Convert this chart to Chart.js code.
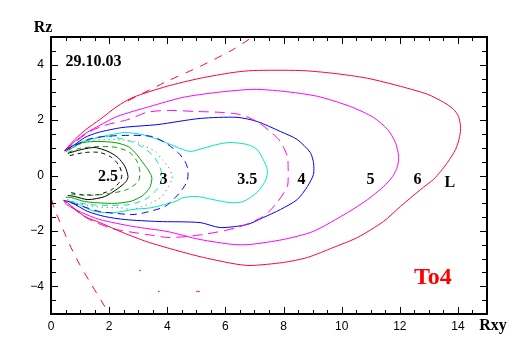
<!DOCTYPE html>
<html><head><meta charset="utf-8">
<script src="https://cdn.jsdelivr.net/npm/chart.js@4"></script>
<style>html,body{margin:0;padding:0;background:#fff}</style>
</head><body>
<canvas id="c" width="512" height="357"></canvas>
<script>
// ---- data (x = Rxy, y = Rz) ----
const xTickValues = [0, 2, 4, 6, 8, 10, 12, 14];
const yTickValues = [-4, -2, 0, 2, 4];

const L6_solid = [[0.47,0.90],[0.82,1.30],[1.20,1.66],[1.68,2.02],[2.27,2.49],[2.82,2.82],[3.99,3.22],[5.13,3.51],[6.27,3.72],[6.96,3.79],[8.58,3.79],[9.71,3.69],[10.89,3.51],[12.02,3.22],[12.96,2.93],[13.51,2.64],[13.85,2.39],[14.02,2.13],[14.09,1.77],[14.06,1.41],[13.92,0.94],[13.64,0.47],[13.40,0.14],[13.16,-0.14],[12.71,-0.51],[12.02,-1.12],[11.44,-1.66],[10.54,-2.24],[9.71,-2.60],[8.82,-2.96],[7.99,-3.14],[6.85,-3.25],[6.26,-3.18],[5.13,-2.93],[4.20,-2.67],[3.30,-2.39],[2.47,-2.06],[1.68,-1.70],[1.16,-1.48],[0.58,-1.00],[0.44,-0.90]];
const L6_dash_upper = [[2.65,2.70],[3.99,3.40],[5.13,3.94],[6.27,4.55],[6.96,5.02]];
const L6_dash_lower = [[0.02,-0.87],[0.13,-1.23],[0.64,-2.49],[0.99,-3.22],[1.33,-3.83],[2.02,-5.02]];
const L6_dots = [[3.06,-3.43],[3.71,-4.19],[5.02,-4.19],[5.09,-4.19]];

const L5_solid = [[0.47,0.90],[0.82,1.23],[1.23,1.55],[1.68,1.81],[2.27,2.13],[3.40,2.49],[4.54,2.82],[5.71,3.00],[6.96,3.11],[7.99,3.04],[9.16,2.86],[10.30,2.49],[11.09,2.10],[11.58,1.66],[11.85,1.19],[11.96,0.69],[11.92,0.33],[11.75,-0.04],[11.44,-0.40],[10.89,-0.87],[10.20,-1.34],[9.02,-2.02],[7.99,-2.31],[6.85,-2.49],[6.27,-2.49],[5.13,-2.31],[3.99,-2.02],[2.82,-1.84],[1.68,-1.59],[1.06,-1.34],[0.54,-1.05],[0.44,-0.90]];
const L5_dash = [[0.47,0.90],[1.27,1.55],[1.85,1.81],[2.65,2.02],[3.30,2.28],[3.99,2.35],[5.02,2.31],[5.82,2.28],[6.51,2.20],[7.09,1.95],[7.54,1.59],[7.89,1.23],[8.13,0.69],[8.16,0.22],[8.16,-0.14],[8.13,-0.40],[7.78,-0.98],[7.30,-1.48],[6.40,-1.88],[5.23,-2.13],[4.09,-2.24],[3.30,-2.13],[2.13,-1.92],[1.33,-1.59],[0.82,-1.23],[0.44,-0.90]];

const L4_solid = [[0.47,0.90],[0.82,1.12],[1.16,1.37],[1.61,1.55],[2.44,1.73],[3.68,1.84],[5.13,2.06],[6.40,2.10],[7.09,1.95],[7.89,1.59],[8.47,1.30],[8.92,0.83],[9.03,0.47],[9.03,0.04],[8.82,-0.40],[8.47,-0.87],[7.89,-1.23],[7.30,-1.52],[6.75,-1.77],[5.82,-1.88],[5.13,-1.70],[3.68,-1.66],[2.54,-1.59],[1.85,-1.48],[1.27,-1.30],[0.71,-0.98],[0.44,-0.90]];
const L4_dash = [[0.47,0.90],[1.27,1.30],[1.85,1.41],[2.71,1.45],[3.47,1.41],[3.92,1.19],[4.37,0.83],[4.61,0.51],[4.71,0.22],[4.71,-0.04],[4.68,-0.22],[4.51,-0.51],[4.27,-0.80],[3.92,-1.12],[3.23,-1.34],[2.78,-1.41],[1.68,-1.30],[1.10,-1.12],[0.54,-0.94]];

const L35_solid = [[0.47,0.90],[0.99,1.19],[1.61,1.37],[2.10,1.48],[2.54,1.55],[3.13,1.48],[3.68,1.30],[4.27,1.05],[4.78,0.87],[5.23,0.98],[5.71,1.12],[6.16,1.19],[6.75,1.12],[7.09,0.94],[7.30,0.58],[7.44,0.22],[7.40,-0.14],[7.09,-0.61],[6.61,-0.94],[6.16,-0.98],[5.58,-0.87],[5.02,-0.76],[4.54,-0.80],[4.27,-0.94],[3.47,-1.16],[2.78,-1.23],[2.20,-1.34],[1.51,-1.30],[0.82,-0.98],[0.44,-0.90]];
const L35_dash = [[0.47,0.90],[1.16,1.23],[1.85,1.41],[2.54,1.30],[3.06,1.08],[3.47,0.76],[3.71,0.40],[3.82,0.00],[3.75,-0.33],[3.58,-0.58],[3.23,-0.87],[2.71,-1.05],[2.02,-1.08],[1.33,-1.05],[0.71,-0.94],[0.44,-0.90]];

const L3_solid = [[0.51,0.87],[0.82,1.05],[1.10,1.19],[1.61,1.23],[2.20,1.19],[2.65,1.05],[2.89,0.83],[3.13,0.51],[3.33,0.22],[3.47,-0.07],[3.40,-0.43],[3.16,-0.72],[2.78,-0.92],[2.30,-1.00],[1.85,-1.00],[1.16,-0.94],[0.71,-0.80],[0.51,-0.78]];
const L3_dash = [[0.58,0.83],[0.99,0.98],[1.68,1.05],[2.27,1.01],[2.71,0.83],[2.96,0.51],[3.06,0.11],[3.00,-0.22],[2.61,-0.51],[2.02,-0.65],[1.33,-0.72],[0.75,-0.69],[0.58,-0.76]];
const L3_dot = [[0.51,0.87],[1.27,1.23],[2.02,1.30],[2.89,1.23],[3.23,1.05],[3.58,0.87],[3.82,0.58],[4.02,0.33],[4.16,0.04],[4.16,-0.14],[4.02,-0.43],[3.82,-0.76],[3.47,-0.98],[3.13,-1.12],[2.78,-1.23],[2.37,-1.16],[1.96,-1.16],[1.51,-1.12],[0.82,-0.98],[0.51,-0.83]];

const L25_solid = [[0.58,0.80],[1.06,0.94],[1.51,1.01],[1.96,0.87],[2.30,0.65],[2.54,0.33],[2.65,-0.04],[2.58,-0.22],[2.30,-0.47],[1.85,-0.76],[1.27,-0.87],[0.82,-0.76],[0.58,-0.72]];
const L25_dash = [[0.65,0.72],[1.16,0.83],[1.68,0.83],[2.09,0.65],[2.34,0.36],[2.44,0.04],[2.37,-0.22],[2.09,-0.51],[1.61,-0.69],[1.06,-0.69],[0.65,-0.61]];

const curveLabels = ['2.5', '3', '3.5', '4', '5', '6', 'L'];
const curveLabelX = [1.96, 3.87, 6.75, 8.62, 10.99, 12.61, 13.72];
const curveLabelY = [-0.05, -0.14, -0.14, -0.14, -0.16, -0.14, -0.27];
const dateText = '29.10.03';
const modelText = 'To4';

// ---- chart ----
const pts = a => a.map(([x, y]) => ({x, y}));
function line(d, color, dash, tension) {
  return {data: pts(d), showLine: true, borderColor: color, borderWidth: 1,
    borderDash: dash || [], pointRadius: 0, fill: false, tension: tension === undefined ? 0.25 : tension};
}
const RED = '#ff0040', MAG = '#ff00ff', BLUE = '#0000ff', CYAN = '#00e8b8', GREEN = '#00a000', BLACK = '#000000';

const decor = {
  id: 'decor',
  afterDraw(chart) {
    const ctx = chart.ctx, a = chart.chartArea;
    const xs = chart.scales.x, ys = chart.scales.y;
    ctx.save();
    ctx.strokeStyle = '#000';
    ctx.lineWidth = 2;
    ctx.strokeRect(a.left, a.top, a.right - a.left, a.bottom - a.top);
    ctx.lineWidth = 1;
    ctx.beginPath();
    for (let v = 0; v <= 15.001; v += 0.5) {
      const px = Math.round(xs.getPixelForValue(v)) + 0.5;
      const len = xTickValues.includes(v) ? 7 : 4;
      ctx.moveTo(px, a.bottom); ctx.lineTo(px, a.bottom - len);
      ctx.moveTo(px, a.top); ctx.lineTo(px, a.top + len);
    }
    for (let v = -5; v <= 5.001; v += 0.5) {
      const py = Math.round(ys.getPixelForValue(v)) + 0.5;
      const len = yTickValues.includes(v) ? 7 : 5;
      ctx.moveTo(a.left, py); ctx.lineTo(a.left + len, py);
      ctx.moveTo(a.right, py); ctx.lineTo(a.right - len, py);
    }
    ctx.stroke();

    ctx.fillStyle = '#000';
    ctx.textAlign = 'center';
    ctx.textBaseline = 'middle';
    ctx.font = 'bold 16px "Liberation Serif"';
    curveLabels.forEach((t, i) => {
      ctx.fillText(t, xs.getPixelForValue(curveLabelX[i]), ys.getPixelForValue(curveLabelY[i]));
    });
    ctx.fillText(dateText, xs.getPixelForValue(1.46), ys.getPixelForValue(4.10));
    ctx.fillText('Rz', a.left - 8, a.top - 9);
    ctx.fillText('Rxy', a.right + 6, a.bottom + 12);
    ctx.fillStyle = '#ff0000';
    ctx.font = 'bold 24px "Liberation Serif"';
    ctx.fillText(modelText, xs.getPixelForValue(13.14), ys.getPixelForValue(-3.69));
    ctx.restore();
  }
};

new Chart(document.getElementById('c'), {
  type: 'scatter',
  data: {datasets: [
    line(L6_solid, RED), line(L6_dash_upper, RED, [8, 8]), line(L6_dash_lower, RED, [8, 8]),
    {data: pts(L6_dots), showLine: false, pointRadius: 0.8, pointBorderWidth: 0, pointBackgroundColor: RED},
    line(L5_solid, MAG), line(L5_dash, MAG, [10, 6]),
    line(L4_solid, BLUE), line(L4_dash, BLUE, [7, 5]),
    line(L35_solid, CYAN), line(L35_dash, CYAN, [6, 5]),
    line(L3_solid, GREEN), line(L3_dash, GREEN, [5, 4]), line(L3_dot, GREEN, [1, 4]),
    line(L25_solid, BLACK), line(L25_dash, BLACK, [4, 4])
  ]},
  options: {
    responsive: false, animation: false, devicePixelRatio: 1,
    layout: {padding: {top: 37, right: 25, bottom: 0, left: 0}},
    plugins: {legend: {display: false}, tooltip: {enabled: false}},
    scales: {
      x: {type: 'linear', min: 0, max: 15,
        afterBuildTicks: s => { s.ticks = xTickValues.map(v => ({value: v})); },
        afterFit: s => { s.height = 43; },
        ticks: {color: '#000', font: {family: 'Liberation Sans', size: 12}, padding: 5, maxRotation: 0, autoSkip: false},
        grid: {display: false, drawTicks: false}, border: {display: false}},
      y: {type: 'linear', min: -5, max: 5,
        afterBuildTicks: s => { s.ticks = yTickValues.map(v => ({value: v})); },
        afterFit: s => { s.width = 51; },
        ticks: {color: '#000', font: {family: 'Liberation Sans', size: 12}, padding: 7, autoSkip: false,
          callback: v => (v < 0 ? '\u2212' + Math.abs(v) : String(v))},
        grid: {display: false, drawTicks: false}, border: {display: false}}
    }
  },
  plugins: [decor]
});
</script>
</body></html>
